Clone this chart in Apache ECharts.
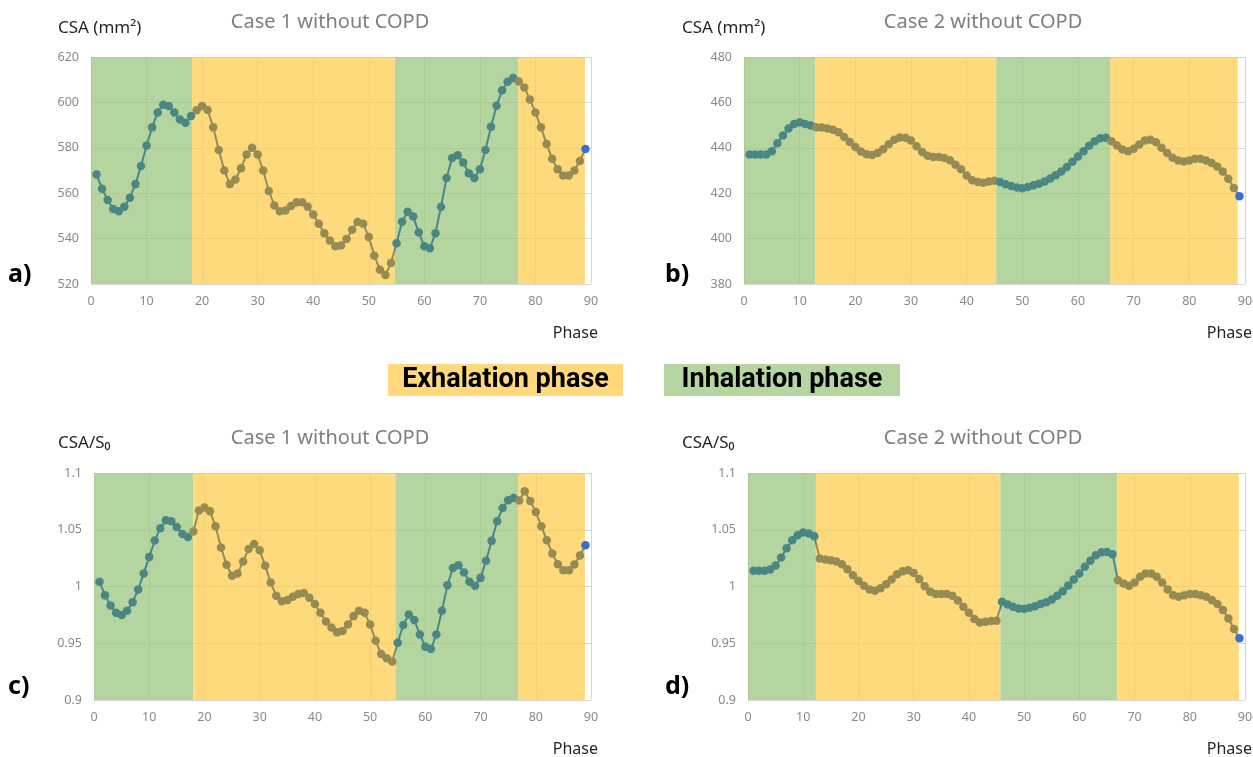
<!DOCTYPE html>
<html><head><meta charset="utf-8">
<script src="https://cdn.jsdelivr.net/npm/echarts@6/dist/echarts.min.js"></script>
<style>html,body{margin:0;padding:0;background:#fff}#c{width:1253px;height:757px}</style>
</head><body><div id="c"></div>
<script>
// ---------------- data ----------------
const phase = [1,2,3,4,5,6,7,8,9,10,11,12,13,14,15,16,17,18,19,20,21,22,23,24,25,26,27,28,29,30,
  31,32,33,34,35,36,37,38,39,40,41,42,43,44,45,46,47,48,49,50,51,52,53,54,55,56,57,58,59,60,
  61,62,63,64,65,66,67,68,69,70,71,72,73,74,75,76,77,78,79,80,81,82,83,84,85,86,87,88,89];

const csaCase1 = [568.2,562,557,553,552,554,558,564,572,581,589,595.6,599,598.4,595.5,592.5,591,594,596.5,598.4,
  596.6,589,579,570,564,566,571,577,580,577,570,561,554.6,552,552.4,554.4,556,556,554,550.6,
  546.5,542.4,539.2,536.6,537,539.8,543.9,547.3,546.5,540.7,532.5,526.3,524,529.2,538,547.4,551.8,549.7,542.7,536.6,
  535.7,542.4,554,566.7,575.5,576.7,573.5,568.8,566.7,570.5,579,589.3,598.5,605.4,609.1,610.7,609.2,606.6,601.3,595.5,
  589,581.7,575.2,570.5,567.8,567.8,570,574.2,579.5];

const csaCase2 = [437,437,437,437.1,438.5,442,445.4,448.5,450.5,451.2,450.5,449.8,449,448.9,448.5,448,446.9,444.8,442.6,440.3,
  438.4,437.2,436.8,437.7,439.4,441.6,443.5,444.5,444.4,443.2,440.7,438.1,436.5,435.9,435.9,435.5,434.5,432.5,430.5,427.8,
  425.7,424.9,424.6,425.2,425.5,424.9,423.9,423.2,422.5,422.2,422.7,423.5,424.2,425.2,426.5,427.9,429.6,431.5,433.9,436.2,
  438.5,440.9,442.9,444.2,444.4,442.9,441,439.3,438.5,439.6,441.5,443.2,443.5,442.5,440,437.7,435.6,434.4,434,434.4,
  435.2,435.2,434.4,433.3,431.8,429.6,426.4,422.3,418.7];

const ratioCase1 = [1.0041,0.9924,0.9833,0.9768,0.9748,0.9786,0.9862,0.9974,1.0114,1.0261,1.0405,1.0513,1.0584,1.0575,1.0525,1.0463,1.0437,1.0484,1.0669,1.0695,
  1.0663,1.0531,1.0343,1.0191,1.0094,1.0114,1.022,1.0331,1.0375,1.032,1.0182,1.0035,0.9918,0.9871,0.988,0.9909,0.9933,0.9943,0.99,0.9845,
  0.9768,0.9692,0.9639,0.9597,0.9607,0.9666,0.9739,0.9786,0.9768,0.9666,0.9522,0.9405,0.9367,0.934,0.9504,0.966,0.9754,0.9704,0.9578,0.9469,
  0.9449,0.9578,0.9786,1.0012,1.0164,1.0188,1.0123,1.0041,1.0006,1.0076,1.0226,1.0402,1.0575,1.0692,1.076,1.078,1.0757,1.0839,1.0754,1.0657,
  1.0531,1.0408,1.029,1.0196,1.0144,1.0144,1.0194,1.0273,1.0364];

const ratioCase2 = [1.0138,1.0138,1.0138,1.015,1.0185,1.0255,1.0337,1.0408,1.0452,1.0475,1.0466,1.0443,1.0246,1.0238,1.0232,1.022,1.0196,1.0152,1.01,1.005,
  1.0006,0.9974,0.9962,0.9985,1.002,1.0062,1.0109,1.0135,1.0144,1.012,1.0065,1.0003,0.9953,0.9933,0.9933,0.9933,0.9918,0.9877,0.9821,0.9768,
  0.9713,0.9683,0.9689,0.9695,0.9698,0.9865,0.9842,0.9821,0.9806,0.9801,0.9812,0.9827,0.9845,0.9862,0.9886,0.9918,0.9959,1.0009,1.0062,1.0114,
  1.0173,1.0226,1.0276,1.0302,1.0305,1.0284,1.0056,1.0026,1.0006,1.0035,1.0085,1.0114,1.0114,1.0085,1.0035,0.9974,0.9924,0.9909,0.9924,0.9933,
  0.9933,0.9924,0.9909,0.988,0.9845,0.9792,0.9718,0.9625,0.9543];

// phase boundaries: [inhalation start, exhalation start, inhalation start, exhalation start, end]
const bandsCase1CSA   = [0, 18.2, 54.7, 76.9, 88.9];
const bandsCase2CSA   = [0, 12.8, 45.3, 65.8, 88.7];
const bandsCase1Ratio = [0, 18.0, 54.6, 76.8, 88.9];
const bandsCase2Ratio = [0, 12.3, 45.7, 66.8, 88.9];

const xTicks = {min: 0, max: 90, interval: 10};
const yCSA1 = {min: 520, max: 620, interval: 20};
const yCSA2 = {min: 380, max: 480, interval: 20};
const yRatio = {min: 0.9, max: 1.1, interval: 0.05};

const titles = ['Case 1 without COPD', 'Case 2 without COPD', 'Case 1 without COPD', 'Case 2 without COPD'];
const yNames = ['CSA (mm²)', 'CSA (mm²)', 'CSA/S₀', 'CSA/S₀'];
const panelLetters = ['a)', 'b)', 'c)', 'd)'];
const legendLabels = ['Exhalation phase', 'Inhalation phase'];

// ---------------- styling ----------------
const COL_GREEN_BAND = 'rgba(156,199,128,0.75)';
const COL_YELLOW_BAND = 'rgba(255,205,80,0.75)';
const COL_TEAL = '#4a8784';
const COL_OLIVE = '#958c55';
const COL_BLUE = '#3b6fd2';

const grids = [
  {left: 91, top: 57, width: 500, height: 227},
  {left: 744, top: 57, width: 501, height: 227},
  {left: 94, top: 473, width: 497, height: 227},
  {left: 748, top: 473, width: 497, height: 227}
];
const yRanges = [yCSA1, yCSA2, yRatio, yRatio];
const values = [csaCase1, csaCase2, ratioCase1, ratioCase2];
const bands = [bandsCase1CSA, bandsCase2CSA, bandsCase1Ratio, bandsCase2Ratio];

const labelStyle = {color: '#8a8a8a', fontSize: 12.5, fontFamily: 'Noto Sans'};
const splitStyle = {show: true, lineStyle: {color: '#d6d6d6', width: 1}};

const option = {
  animation: false,
  backgroundColor: '#ffffff',
  grid: grids.map(g => Object.assign({outerBoundsMode: 'none'}, g)),
  xAxis: grids.map((g, i) => ({
    type: 'value', gridIndex: i, min: xTicks.min, max: xTicks.max, interval: xTicks.interval,
    axisLine: {show: false}, axisTick: {show: false},
    axisLabel: Object.assign({margin: 11}, labelStyle),
    splitLine: splitStyle
  })),
  yAxis: grids.map((g, i) => ({
    type: 'value', gridIndex: i, min: yRanges[i].min, max: yRanges[i].max, interval: yRanges[i].interval,
    axisLine: {show: false}, axisTick: {show: false},
    axisLabel: Object.assign({margin: 12}, labelStyle),
    splitLine: splitStyle
  })),
  visualMap: grids.map((g, i) => ({
    type: 'piecewise', show: false, seriesIndex: 4 + i, dimension: 0,
    pieces: [
      {gte: bands[i][0], lt: bands[i][1], color: COL_TEAL},
      {gte: bands[i][1], lt: bands[i][2], color: COL_OLIVE},
      {gte: bands[i][2], lt: bands[i][3], color: COL_TEAL},
      {gte: bands[i][3], lt: bands[i][4], color: COL_OLIVE}
    ],
    outOfRange: {color: COL_BLUE}
  })),
  series: [
    // background phase bands
    ...grids.map((g, i) => ({
      type: 'line', xAxisIndex: i, yAxisIndex: i, data: [], z: 1, silent: true,
      markArea: {
        silent: true,
        data: [
          [{xAxis: bands[i][0], itemStyle: {color: COL_GREEN_BAND}}, {xAxis: bands[i][1]}],
          [{xAxis: bands[i][1], itemStyle: {color: COL_YELLOW_BAND}}, {xAxis: bands[i][2]}],
          [{xAxis: bands[i][2], itemStyle: {color: COL_GREEN_BAND}}, {xAxis: bands[i][3]}],
          [{xAxis: bands[i][3], itemStyle: {color: COL_YELLOW_BAND}}, {xAxis: bands[i][4]}]
        ]
      }
    })),
    // measured curves
    ...grids.map((g, i) => ({
      type: 'line', xAxisIndex: i, yAxisIndex: i, z: 3,
      data: phase.map((p, k) => [p, values[i][k]]),
      symbol: 'circle', symbolSize: 8.5, showSymbol: true,
      lineStyle: {width: 2},
      itemStyle: {borderWidth: 0}
    }))
  ],
  graphic: [
    // chart titles
    ...grids.map((g, i) => ({
      type: 'text', x: i % 2 === 0 ? 330 : 983, y: i < 2 ? 22 : 438,
      style: {text: titles[i], fill: '#7f7f7f', font: '20px "Noto Sans"', textAlign: 'center', textVerticalAlign: 'middle'}
    })),
    // y-axis names
    ...grids.map((g, i) => ({
      type: 'text', x: i % 2 === 0 ? 58 : 682, y: i < 2 ? 28 : 443,
      style: {text: yNames[i], fill: '#262626', font: '17px "Noto Sans"', textAlign: 'left', textVerticalAlign: 'middle'}
    })),
    // x-axis names
    ...grids.map((g, i) => ({
      type: 'text', x: i % 2 === 0 ? 598 : 1252, y: i < 2 ? 333 : 749,
      style: {text: 'Phase', fill: '#262626', font: '16px "Noto Sans"', textAlign: 'right', textVerticalAlign: 'middle'}
    })),
    // panel letters
    ...grids.map((g, i) => ({
      type: 'text', x: i % 2 === 0 ? 8 : 665, y: i < 2 ? 275 : 687,
      style: {text: panelLetters[i], fill: '#000', font: 'bold 25px "Noto Sans"', textAlign: 'left', textVerticalAlign: 'middle'}
    })),
    // legend
    {type: 'rect', shape: {x: 388, y: 364, width: 235, height: 32}, style: {fill: '#ffd97b'}},
    {type: 'rect', shape: {x: 664, y: 364, width: 236, height: 32}, style: {fill: '#b5d6a0'}},
    {type: 'text', x: 505.5, y: 380, style: {text: legendLabels[0], fill: '#000', font: 'bold 27px Roboto', textAlign: 'center', textVerticalAlign: 'middle'}},
    {type: 'text', x: 782, y: 380, style: {text: legendLabels[1], fill: '#000', font: 'bold 27px Roboto', textAlign: 'center', textVerticalAlign: 'middle'}}
  ]
};

const chart = echarts.init(document.getElementById('c'), null, {renderer: 'canvas'});
chart.setOption(option);
</script>
</body></html>
